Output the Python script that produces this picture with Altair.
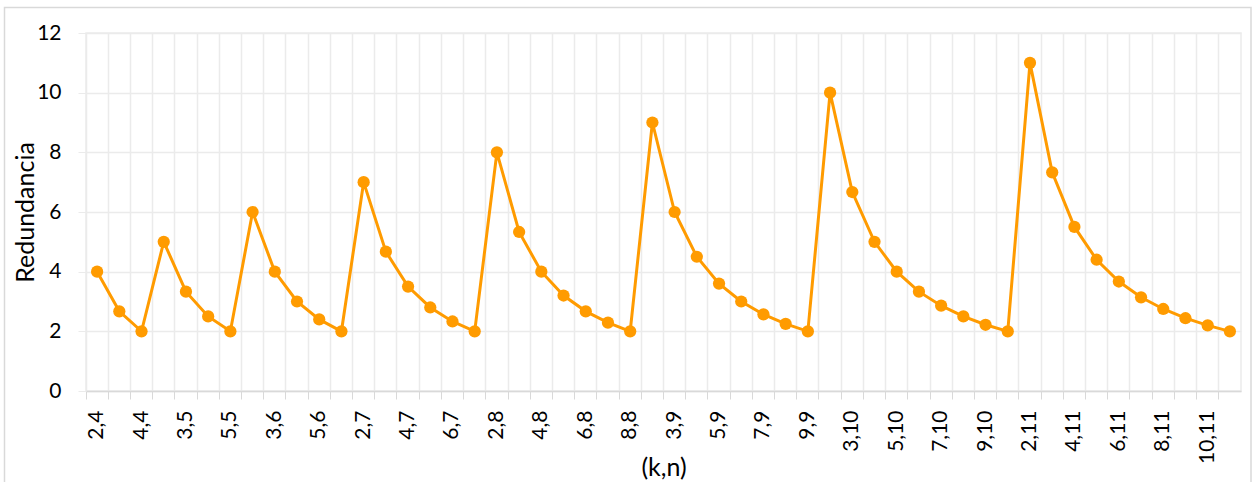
import altair as alt
import pandas as pd

# (k,n) categories in plotting order
kn_labels = [
    "2,4", "3,4", "4,4",
    "2,5", "3,5", "4,5", "5,5",
    "2,6", "3,6", "4,6", "5,6", "6,6",
    "2,7", "3,7", "4,7", "5,7", "6,7", "7,7",
    "2,8", "3,8", "4,8", "5,8", "6,8", "7,8", "8,8",
    "2,9", "3,9", "4,9", "5,9", "6,9", "7,9", "8,9", "9,9",
    "2,10", "3,10", "4,10", "5,10", "6,10", "7,10", "8,10", "9,10", "10,10",
    "2,11", "3,11", "4,11", "5,11", "6,11", "7,11", "8,11", "9,11", "10,11", "11,11",
]

# redundancy for each (k,n)
redundancy = [
    4, 2.67, 2,
    5, 3.33, 2.5, 2,
    6, 4, 3, 2.4, 2,
    7, 4.67, 3.5, 2.8, 2.33, 2,
    8, 5.33, 4, 3.2, 2.67, 2.29, 2,
    9, 6, 4.5, 3.6, 3, 2.57, 2.25, 2,
    10, 6.67, 5, 4, 3.33, 2.86, 2.5, 2.22, 2,
    11, 7.33, 5.5, 4.4, 3.67, 3.14, 2.75, 2.44, 2.2, 2,
]

# only every other category gets a tick label
shown_labels = kn_labels[::2]

y_ticks = [0, 2, 4, 6, 8, 10, 12]

df = pd.DataFrame({"kn": kn_labels, "r": redundancy})

W, H = 1155, 358
ORANGE = "#ff9b00"
GRID = "#ebebeb"
AXIS = "#d9d9d9"
FONT = "Lato"

label_list = "[" + ",".join("'" + s + "'" for s in shown_labels) + "]"

x_enc = alt.X(
    "kn:N",
    sort=kn_labels,
    scale=alt.Scale(type="band", paddingInner=0, paddingOuter=0),
    axis=alt.Axis(
        title="(k,n)",
        bandPosition=0,
        labelAngle=-90,
        labelExpr=f"indexof({label_list}, datum.value) >= 0 ? datum.label : ''",
        labelFont=FONT,
        labelFontSize=21,
        labelColor="#000000",
        labelPadding=11,
        labelOverlap=False,
        grid=True,
        gridColor=GRID,
        gridWidth=1.5,
        ticks=True,
        tickSize=8,
        tickColor=AXIS,
        domainColor=AXIS,
        domainWidth=1.5,
        titleFont=FONT,
        titleFontSize=25,
        titleFontWeight="normal",
        titleColor="#000000",
        titleBaseline="alphabetic",
        titleY=84,
    ),
)

y_enc = alt.Y(
    "r:Q",
    scale=alt.Scale(domain=[0, 12], nice=False),
    axis=alt.Axis(
        title="Redundancia",
        values=y_ticks,
        labelFont=FONT,
        labelFontSize=21,
        labelColor="#000000",
        labelPadding=17,
        grid=True,
        gridColor=GRID,
        gridWidth=1.5,
        ticks=True,
        tickSize=8,
        tickColor=GRID,
        domain=False,
        titleFont=FONT,
        titleFontSize=25,
        titleFontWeight="normal",
        titleColor="#000000",
        titleBaseline="alphabetic",
        titleX=-53,
    ),
)

line = (
    alt.Chart(df)
    .mark_line(color=ORANGE, strokeWidth=3)
    .encode(x=x_enc, y=y_enc)
)

points = (
    alt.Chart(df)
    .mark_point(filled=True, color=ORANGE, size=150, opacity=1, shape="circle")
    .encode(x=alt.X("kn:N", sort=kn_labels), y="r:Q")
)

# outer chart frame
frame = (
    alt.Chart(pd.DataFrame({"a": [0]}))
    .mark_rect(fill=None, stroke=AXIS, strokeWidth=1.5)
    .encode(
        x=alt.value(-81.5),
        x2=alt.value(1165),
        y=alt.value(-25.5),
        y2=alt.value(470),
    )
)

chart = (
    alt.layer(frame, line, points)
    .properties(
        width=W,
        height=H,
        autosize=alt.AutoSizeParams(type="none"),
        padding={"left": 86, "top": 33, "right": 11, "bottom": 91},
        background="white",
    )
    .configure_view(stroke=GRID, strokeWidth=1.5)
)

chart.save("out.html", embed_options={"renderer": "svg", "actions": False})
